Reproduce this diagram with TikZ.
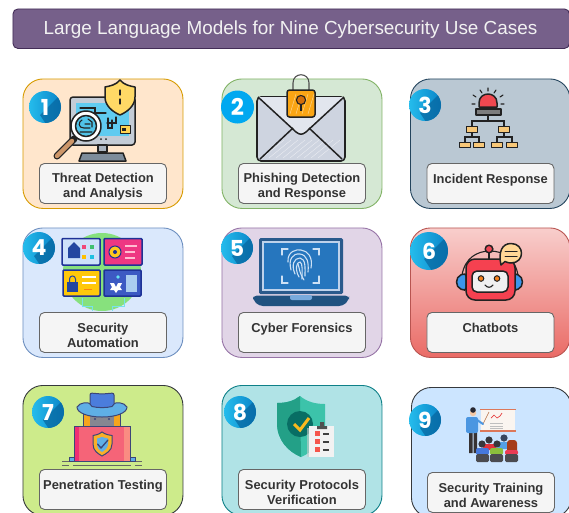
\documentclass[tikz,border=0pt]{standalone}
\usepackage{fontspec}
\setmainfont{Liberation Sans}
\newfontfamily\badgefont{Poppins}
\definecolor{ink}{HTML}{222222}
\definecolor{labtxt}{HTML}{333333}
\definecolor{topred}{HTML}{F8CECC}
\definecolor{botred}{HTML}{EA6B66}
\definecolor{badgeL}{HTML}{25BCEC}
\definecolor{badgeR}{HTML}{0A84C8}
\definecolor{badgeS}{HTML}{07659E}
\tikzset{
 fc/.code={\definecolor{tmpf}{HTML}{#1}\tikzset{fill=tmpf}},
 dc/.code={\definecolor{tmpd}{HTML}{#1}\tikzset{draw=tmpd}},
 card/.style={dc=#1,line width=0.9pt,rounded corners=20pt,anchor=north west,inner sep=0pt},
 labelbox/.style={draw=black!60,fill=black!4,line width=0.9pt,rounded corners=5pt,anchor=north west,
   minimum width=127pt,minimum height=40pt,inner sep=0pt},
 labeltext/.style={inner sep=0pt,align=center,text=labtxt,font=\fontsize{12.9}{15.5}\selectfont\bfseries},
 badgebase/.style={circle,inner sep=0pt,minimum size=#1,text=white,font=\badgefont\fontsize{22}{22}\selectfont\bfseries,
   left color=badgeL,right color=badgeR,
   path picture={\fill[badgeS,opacity=.7] (path picture bounding box.center) ++(-5pt,-8pt) -- ++(30pt,30pt) -- ++(10pt,-25pt) -- ++(-30pt,-20pt)--cycle;}},
 icon/.style={draw=ink,line width=1.5pt,line join=round},
 thinln/.style={draw=ink,line width=1.1pt,line cap=round},
}
\newcommand\lblnode[4]{\node[labelbox] (l#1) at (#2,#3) {};
  \node[labeltext] (lt#1) at ([yshift=-3pt]l#1.center) {#4};}
\begin{document}
\begin{tikzpicture}[x=1pt,y=-1pt]
\useasboundingbox (0,0) rectangle (569,512);
\clip (0,0) rectangle (569,512);
% title
\node[dc=432D57,fc=76608A,line width=.9pt,rounded corners=5pt,anchor=north west,
  minimum width=556.5pt,minimum height=39.5pt,inner sep=0pt] (title) at (12.5,8.5) {};
\node[text=white!95!black,font=\fontsize{18.9}{20}\selectfont,inner sep=0pt] (titletext) at (290.5,29.5) {Large Language Models for Nine Cybersecurity Use Cases};
% cards
\node[card=D79B00,fc=FFE6CC,minimum width=160pt,minimum height=129.5pt] (c1) at (22.5,78.5) {};
\node[card=82B366,fc=D5E8D4,minimum width=160pt,minimum height=129.5pt] (c2) at (221.5,78.5) {};
\node[card=23445D,fc=BAC8D3,minimum width=159.5pt,minimum height=129.5pt] (c3) at (410,78.5) {};
\node[card=6C8EBF,fc=DAE8FC,minimum width=160pt,minimum height=129.5pt] (c4) at (22.5,227.5) {};
\node[card=9673A6,fc=E1D5E7,minimum width=160pt,minimum height=129.5pt] (c5) at (221.5,227.5) {};
\node[card=B85450,top color=topred,bottom color=botred,minimum width=159.5pt,minimum height=129.5pt] (c6) at (410,227.5) {};
\node[card=36393D,fc=CDEB8B,minimum width=160pt,minimum height=130pt] (c7) at (22.5,385) {};
\node[card=0E8088,fc=B0E3E6,minimum width=160pt,minimum height=130pt] (c8) at (221.5,385) {};
\node[card=36393D,fc=CCE5FF,minimum width=160pt,minimum height=130pt] (c9) at (411,387) {};

% ---- icon 1
\fill[icon,fc=C4CCD6,rounded corners=3pt] (70,97) rectangle (135,145);
\fill[fc=60CBF0] (76,103) rectangle (129,136);
\draw[thinln] (80,108)--(95,108)--(95,113)--(106,113) (108,118)--(108,128)--(112,128)--(112,120) (116,117)--(116,123)--(107,123);
\fill[icon,fc=FFD250,line width=1pt] (120,125) rectangle (130,133);
\fill[ink] (122,128) rectangle (126,131);
\fill[icon,fc=AAB4C0] (98,145) rectangle (107,152);
\fill[icon,fc=7D8C9B] (79,161) -- (82,153) -- (123,153) -- (126,161) -- cycle;
\fill[ink] (101,139) circle[radius=1pt] (106,139) circle[radius=1pt];
\fill[icon,fc=FFD966] (120,80) .. controls (124,85) and (130,86) .. (135,87) -- (135,97) .. controls (135,106) and (127,112) .. (120,115) .. controls (113,112) and (105,106) .. (105,97) -- (105,87) .. controls (110,86) and (116,85) .. (120,80) -- cycle;
\draw[thinln] (120,90)--(120,95) (120,99)--(120,104);
\draw[ink,line width=7pt,line cap=round] (74,139)--(57,156);
\draw[dc=CD9669,line width=4.4pt,line cap=round] (72,141)--(57,156);
\fill[icon,fill=white] (86,126) circle[radius=15pt];
\fill[icon,fc=50C3E8] (86,126) circle[radius=10.5pt];
\draw[thinln] (82,120) .. controls (78,122) and (78,128) .. (84,128) -- (90,128) (90,124) -- (85,124) (88,119) -- (92,122) -- (92,127) (80,132)--(92,132);

% ---- icon 2
\fill[icon,fc=CED4E0,rounded corners=4pt,line width=1.6pt] (257,97) rectangle (345,161);
\foreach \a in {0,7,...,56} \draw[white,opacity=.6,line width=.4pt] (262+\a,158)--(284+\a,140);
\draw[icon,fc=E2E6EE] (258,97)--(296,132) .. controls (300,135) and (302,135) .. (306,132) -- (344,97);
\draw[icon] (260,159)--(293,128) (342,159)--(309,128);
\draw[ink!80,line width=1.1pt] (293,91) -- (293,83) .. controls (293,72) and (309,72) .. (309,83) -- (309,91);
\fill[icon,fc=FAA514,rounded corners=2.5pt] (287,90) rectangle (315,117);
\foreach \a in {0,6,...,18} \draw[white,opacity=.5,line width=.5pt] (290+\a,114)--(296+\a,94);
\fill[thinln,fc=D26E0A] (301,100) circle[radius=4.6pt];
\draw[ink,line width=1.4pt] (301,104.5)--(301,111);

% ---- icon 3
\fill[icon,fc=F04850] (479,107) -- (479,103) .. controls (479,91) and (497,91) .. (497,103) -- (497,107) -- cycle;
\fill[icon,fc=7D7D7D] (476,109) rectangle (501,115);
\draw[thinln] (473,95)--(476,97) (480,90)--(482,93) (488,88)--(488,91) (496,90)--(494,93) (503,95)--(500,97) (472,104)--(475,104) (501,104)--(504,104);
\draw[thinln] (488,115)--(488,121) (472,126)--(472,121)--(504,121)--(504,126);
\draw[thinln] (472,132)--(472,137) (465,142)--(465,137)--(479,137)--(479,142);
\draw[thinln] (504,132)--(504,137) (497,142)--(497,137)--(512,137)--(512,142);
\foreach \p in {472,504} \fill[icon,fc=F8C878,line width=1pt] (\p-5.5,126) rectangle (\p+5.5,132);
\foreach \p in {465,479,497,512} \fill[icon,fc=F8C878,line width=1pt] (\p-5.5,142) rectangle (\p+5.5,147);

% ---- icon 4
\fill[fc=87E17D] (102,272) circle[radius=39pt];
\draw[dc=78E1EB,line width=.8pt] (82,298)--(82,306)--(92,306)--(92,311) (124,298)--(124,306)--(112,306)--(112,311);
\fill[dc=1E3296,line width=1.5pt,fc=CDE1FA,rounded corners=1pt] (62,238.5) rectangle (100,265);
\fill[fc=2346A0] (68,248) -- (74,242) -- (80,248) -- (80,258) -- (68,258) -- cycle;
\foreach \p/\q/\c in {84/247/F04878,92/247/40C070,84/257/FFC000,92/257/20C0E0} \fill[fc=\c] (\p-2,\q-2) rectangle (\p+2,\q+2);
\fill[dc=1E3296,line width=1.5pt,fc=EE3782,rounded corners=1pt] (104,238.5) rectangle (142,265);
\fill[dc=1E3296,line width=1pt,fc=FFC81E] (115,252) circle[radius=6pt];
\fill[fc=1E3296] (115,252) circle[radius=2pt];
\draw[dc=FFBED2,line width=1.5pt] (125,246)--(137,246) (125,252)--(135,252) (125,258)--(135,258);
\fill[dc=1E3296,line width=1.5pt,fc=FFC80A,rounded corners=1pt] (63,270) rectangle (100,296);
\fill[fc=2346A0] (67,282) rectangle (78,292);
\draw[dc=2346A0,line width=1pt] (69.5,282) -- (69.5,279) .. controls (69.5,275) and (75.5,275) .. (75.5,279) -- (75.5,282);
\draw[white,line width=2pt] (82,277)--(96,277) (82,283)--(96,283);
\draw[dc=FA8214,line width=1pt] (84,289)--(92,289);
\fill[dc=1E3296,line width=1.5pt,fc=3C5AC3,rounded corners=1pt] (104,270) rectangle (141,296);
\fill[white] (116,287) -- (118,283) -- (122,283) -- (120,287) -- (122,290) -- (118,290) -- (116,293) -- (114,290) -- (110,290) -- (112,287) -- (110,283) -- (114,283) -- cycle;
\fill[fc=AACDF0] (126,275) rectangle (137,292);
\fill[fc=64E1F0] (118,277) circle[radius=1.8pt];

% ---- icon 5
\fill[fc=2A5A8C,rounded corners=1.5pt] (259,238) rectangle (343,294);
\fill[fc=BED2EB] (262,241) rectangle (340,291);
\fill[fc=2676BE] (264,243) rectangle (338,289);
\fill[fc=205280,rounded corners=4pt] (253,295.5) -- (349,295.5) -- (349,300) -- (343,306) -- (259,306) -- (253,300) -- cycle;
\fill[fc=78AADC,rounded corners=2pt] (290,295) rectangle (312,300);
\begin{scope}[dc=CDE1F5,line width=1.1pt,line cap=round]
\draw (282,255)--(282,249)--(288,249) (313,249)--(319,249)--(319,255) (282,276)--(282,283)--(288,283) (313,283)--(319,283)--(319,276);
\draw (288,262) .. controls (287,251) and (297,249) .. (301,250) .. controls (308,251) and (313,257) .. (311,268);
\draw (291,270) .. controls (288,259) and (293,253) .. (300,254) .. controls (307,255) and (309,262) .. (308,272);
\draw (295,274) .. controls (291,265) and (294,258) .. (300,258) .. controls (306,259) and (305,268) .. (305,276);
\draw (299,277) .. controls (295,270) and (296,262) .. (300,262) .. controls (303,263) and (302,272) .. (302,279);
\draw (298,264) .. controls (300,270) and (299,272) .. (304,280);
\end{scope}

% ---- icon 6
\draw[icon,line width=1.1pt] (462,275) .. controls (465,258) and (477,251) .. (490,251) .. controls (503,251) and (515,258) .. (518,275);
\fill[icon,fc=F04655] (489,249) circle[radius=3.8pt];
\draw[icon,line width=1.1pt] (489,253)--(489,259);
\fill[icon,fc=3C96EB,rounded corners=2pt] (466,274) -- (463,274) .. controls (455,277) and (455,287) .. (463,290) -- (466,290) -- cycle;
\fill[icon,fc=3C96EB,rounded corners=2pt] (514,274) -- (516,274) .. controls (524,277) and (524,287) .. (516,290) -- (514,290) -- cycle;
\fill[icon,fc=F54150,rounded corners=9pt] (466,259) rectangle (515,300);
\fill[icon,fill=white!94!black,rounded corners=5pt] (472,271) rectangle (508,292);
\fill[fc=F5821E,draw=ink,line width=1pt] (481,278.5) circle[radius=2.8pt] (497,278.5) circle[radius=2.8pt];
\draw[thinln] (485,285) .. controls (487,288) and (491,288) .. (493,285);
\fill[icon,fc=FFD796] (501,265) .. controls (498,252) and (502,243.5) .. (511,243.5) .. controls (525,243.5) and (525,263) .. (511,263) .. controls (509,263) and (507,262.5) .. (505,261.5) -- cycle;
\draw[thinln,line width=1pt] (505,251)--(517,251) (505,256)--(517,256);

% ---- icon 7
\fill[dc=3C4678,line width=1pt,fc=F5A51E] (83,411) rectangle (120,426);
\fill[fc=878791] (90,416) -- (114,416) -- (114,426) -- (90,426) -- cycle;
\fill[fc=3C4678] (95,419) circle[radius=1.2pt] (109,419) circle[radius=1.2pt];
\fill[dc=3C4678,line width=1pt,fc=5FAFE6] (77,407) .. controls (80,402) and (88,402) .. (91,404) -- (113,404) .. controls (116,402) and (124,402) .. (127,407) .. controls (127,413) and (116,417) .. (102,417) .. controls (88,417) and (77,413) .. (77,407) -- cycle;
\fill[dc=3C4678,line width=1pt,fc=4B7DDC,rounded corners=2pt] (90,406) -- (90,393) -- (102,394) -- (114,393) -- (114,406) .. controls (106,408) and (98,408) .. (90,406) -- cycle;
\fill[dc=3C4678,line width=1pt,fc=5FAFE6] (69,457) rectangle (135,461);
\fill[dc=3C4678,line width=1pt,fc=F56478] (74,426) rectangle (130,461);
\fill[fc=F02D73] (74.5,426.5) rectangle (79,460.5);
\fill[fc=FA8C82] (124,426.5) rectangle (129.5,460.5);
\fill[dc=3C4678,line width=1pt,fc=FAAF28] (102,432) .. controls (106,435) and (110,435) .. (112,435.5) -- (112,444) .. controls (112,451) and (106,453.5) .. (102,456) .. controls (98,453.5) and (93,451) .. (93,444) -- (93,435.5) .. controls (95,435) and (98,435) .. (102,432) -- cycle;
\fill[fc=5FAFE6] (102,437) -- (108,438.5) -- (108,444) .. controls (108,448) and (105,450) .. (102,452) .. controls (99,450) and (97,448) .. (97,444) -- (97,438.5) -- cycle;
\draw[dc=3C4678,line width=1.3pt,line cap=round] (97.5,444)--(101,448)--(108,440);
\draw[black!60,line width=.9pt] (62,461)--(69,461) (136,461)--(142,461) (62,465)--(69,465) (73,465)--(131,465) (135,465)--(142,465);

% ---- icon 8
\fill[fc=3CC3AA] (300,396) .. controls (307,402) and (316,404) .. (325,404) -- (325,425) .. controls (325,443) and (312,452) .. (301,457) .. controls (289,452) and (277,441) .. (277,423) -- (277,403) .. controls (286,403) and (294,401) .. (300,396) -- cycle;
\fill[fc=23A087] (300,396) .. controls (294,401) and (286,403) .. (277,403) -- (277,423) .. controls (277,441) and (289,452) .. (301,457) -- cycle;
\fill[fc=086E64] (300,424) circle[radius=13pt];
\draw[dc=FAB91E,line width=3pt] (294,424)--(300,430)--(309,418);
\fill[black!20,opacity=.6] (307,428) rectangle (315,457);
\fill[fc=F2F2F2] (309,426) rectangle (334,457);
\fill[fc=505050] (317,426) rectangle (327,429) (320,422) rectangle (324,426);
\foreach \q in {431,439,447} {\fill[fc=F5554B] (315,\q) rectangle (320,\q+5);
  \draw[black!75,line width=1.4pt] (323,\q+3)--(329,\q+3);}

% ---- icon 9
\fill[fc=FAF5F0] (481,409) rectangle (515,431);
\draw[dc=DC785A,line width=1.2pt] (480,409.5)--(516,409.5) (480,431)--(516,431);
\draw[black!25,line width=.7pt] (490,423)--(503,423) (490,426)--(503,426) (490,428.5)--(503,428.5);
\draw[dc=E63C3C,line width=.7pt] (491,418)--(494,415)--(497,418)--(500,416)--(502,413);
\draw[dc=B46E46,line width=.6pt] (483,424)--(489,412);
\fill[fc=373232] (469,432) rectangle (472.5,453) (473.5,432) rectangle (477,453);
\fill[fc=4B96E1,rounded corners=2pt] (466,417) rectangle (478,433);
\draw[dc=4B96E1,line width=2pt,line cap=round] (477,420)--(483,424);
\fill[fc=F5C8A5] (473,413) circle[radius=3.2pt];
\fill[fc=282832] (473,410) circle[radius=2.8pt];
% back row
\fill[fc=37373C] (489,440) circle[radius=3.6pt];
\fill[fc=37465F] (504,438) circle[radius=3.6pt];
\fill[fc=E1323C,rounded corners=2pt] (483,450) rectangle (496,444);
\fill[fc=55A0E6,rounded corners=2pt] (498,449) rectangle (510,442);
% front row
\fill[fc=37373C] (482,444) circle[radius=3.6pt] (497,444) circle[radius=3.6pt];
\fill[fc=A53C19,rounded corners=3pt] (507,440) rectangle (517,454);
\fill[fc=4678DC,rounded corners=2pt] (476,455) rectangle (489,448);
\fill[fc=8CBE3C,rounded corners=2pt] (490,455) rectangle (503,448);
\fill[fc=EB3C55,rounded corners=2pt] (505,455) rectangle (518,450);
\foreach \p in {476,490,505} \fill[fc=4B4B50,rounded corners=1.5pt] (\p,454) rectangle (\p+13,462);

% labels
\lblnode{1}{39}{163}{Threat Detection\\and Analysis}
\lblnode{2}{238}{163}{Phishing Detection\\and Response}
\lblnode{3}{426.5}{163}{Incident Response\\~}
\lblnode{4}{39}{312}{Security\\Automation}
\lblnode{5}{238}{312}{Cyber Forensics\\~}
\lblnode{6}{426.5}{312}{Chatbots\\~}
\lblnode{7}{39}{469}{Penetration Testing\\~}
\lblnode{8}{238}{469}{Security Protocols\\Verification}
\lblnode{9}{427}{472}{Security Training\\and Awareness}

% badges
\node[badgebase=32pt] (b1) at (45,107) {1};
\node[circle,inner sep=0pt,minimum size=33pt,fc=00A8F0,text=white,font=\badgefont\fontsize{23}{23}\selectfont\bfseries] (b2) at (237.5,107) {2};
\node[badgebase=32pt] (b3) at (425,105) {3};
\node[badgebase=32pt] (b4) at (39,248) {4};
\node[badgebase=32pt] (b5) at (237,248) {5};
\node[badgebase=38pt] (b6) at (429,251) {6};
\node[badgebase=32pt] (b7) at (48,412) {7};
\node[badgebase=32pt] (b8) at (240,412) {8};
\node[badgebase=32pt] (b9) at (425,420) {9};
\end{tikzpicture}
\end{document}
